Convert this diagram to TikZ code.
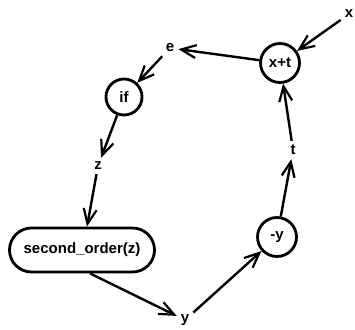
\documentclass[tikz,border=0pt]{standalone}
\usepackage{fontspec}
\setmainfont{Liberation Sans}
\usetikzlibrary{arrows.meta,shapes.misc}
\begin{document}
\begin{tikzpicture}[x=1pt,y=1pt,
  every node/.style={font=\fontsize{15}{17}\selectfont\bfseries},
  lbl/.style={inner sep=4pt},
  op/.style={circle,draw,line width=2.8pt,minimum size=39pt,inner sep=0pt},
  proc/.style={rounded rectangle,draw,line width=2.8pt,minimum width=149pt,minimum height=44pt,inner sep=2pt},
  flow/.style={line width=2.4pt,-{Straight Barb[length=15pt,width=13pt,line width=2.2pt]}}]
\useasboundingbox (0,0) rectangle (355,329);
% operation nodes
\node[op] (xt) at (280,266) {x+t};
\node[op,minimum size=36pt] (if) at (124,232) {if};
\node[op] (ny) at (277,92) {-y};
\node[proc] (so) at (82,79) {second\_order(z)};
% variable labels
\node[lbl] (x) at (349,315) {x};
\node[lbl] (e) at (170,281) {e};
\node[lbl] (z) at (98,163) {z};
\node[lbl] (t) at (293,179) {t};
\node[lbl] (y) at (185,9) {y};
% data flow
\draw[flow] (x) -- (xt);
\draw[flow] (xt) -- (e);
\draw[flow] (e) -- (if);
\draw[flow] (if) -- (z);
\draw[flow] (z) -- ([xshift=5pt]so.north);
\draw[flow] ([xshift=8pt]so.south) -- (y);
\draw[flow] (y) -- (ny);
\draw[flow] (ny) -- (t);
\draw[flow] (t) -- (xt);
\end{tikzpicture}
\end{document}
